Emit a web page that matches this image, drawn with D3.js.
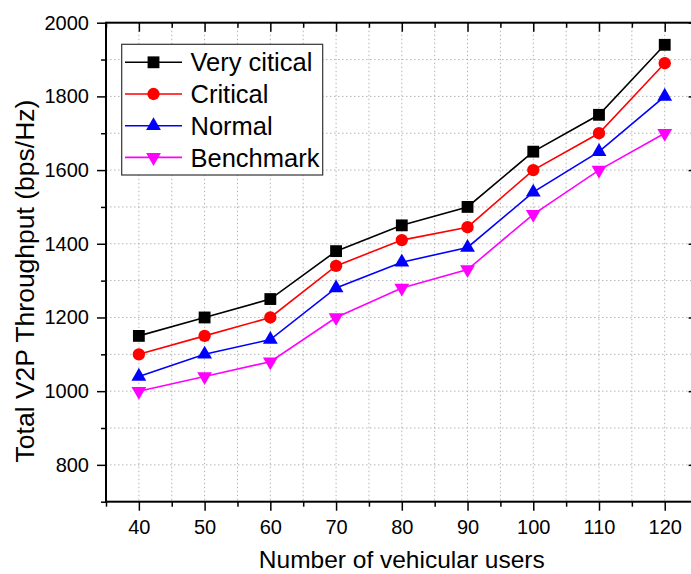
<!DOCTYPE html>
<html>
<head>
<meta charset="utf-8">
<script src="https://cdn.jsdelivr.net/npm/d3@7"></script>
<style>
  html, body { margin: 0; padding: 0; background: #fff; }
  svg { display: block; font-family: "Liberation Sans", Arial, sans-serif; }
</style>
</head>
<body>
<svg id="chart" width="691" height="574"></svg>
<script>
const users = [40, 50, 60, 70, 80, 90, 100, 110, 120];
const veryCritical = [1150, 1200, 1250, 1380, 1450, 1500, 1650, 1750, 1940];
const critical     = [1100, 1150, 1200, 1340, 1410, 1445, 1600, 1700, 1890];
const normal       = [1040, 1100, 1140, 1280, 1350, 1390, 1540, 1650, 1800];
const benchmark    = [1000, 1040, 1080, 1200, 1280, 1330, 1480, 1600, 1700];
const seriesNames  = ["Very citical", "Critical", "Normal", "Benchmark"];
const yTickValues  = [800, 1000, 1200, 1400, 1600, 1800, 2000];
const yMinorValues = [700, 900, 1100, 1300, 1500, 1700, 1900];
const xTickValues  = [40, 50, 60, 70, 80, 90, 100, 110, 120];
const xMinorValues = [35, 45, 55, 65, 75, 85, 95, 105, 115, 125];

(function () {
const svg = d3.select("#chart");
const pL = 106, pR = 697.6, pT = 22.7, pB = 501.7;
const x = d3.scaleLinear().domain([35, 125]).range([pL, pR]);
const y = d3.scaleLinear().domain([700, 2000]).range([pB, pT]);

// grid
const grid = svg.append("g").attr("stroke", "#b4b4b4").attr("stroke-width", 1).attr("stroke-dasharray", "1.5,2.5");
[...xTickValues, ...xMinorValues].forEach(v => {
  grid.append("line").attr("x1", x(v)).attr("x2", x(v)).attr("y1", pT).attr("y2", pB);
});
[...yTickValues, ...yMinorValues].forEach(v => {
  grid.append("line").attr("x1", pL).attr("x2", pR).attr("y1", y(v)).attr("y2", y(v));
});

function styleAxis(g) {
  g.select(".domain").remove();
  g.selectAll(".tick line").attr("stroke", "#000").attr("stroke-width", 1.5);
  g.selectAll("text").attr("fill", "#000").attr("font-size", 20).attr("font-family", null);
}

// bottom axis
svg.append("g").attr("transform", `translate(0,${pB})`)
  .call(d3.axisBottom(x).tickValues(xTickValues).tickSize(9).tickPadding(9).tickFormat(d3.format("d")))
  .call(styleAxis);
svg.append("g").attr("transform", `translate(0,${pB})`)
  .call(d3.axisBottom(x).tickValues(xMinorValues).tickSize(5).tickFormat(""))
  .call(styleAxis);
// top axis (inward)
svg.append("g").attr("transform", `translate(0,${pT})`)
  .call(d3.axisBottom(x).tickValues(xTickValues).tickSize(9).tickFormat(""))
  .call(styleAxis);
svg.append("g").attr("transform", `translate(0,${pT})`)
  .call(d3.axisBottom(x).tickValues(xMinorValues).tickSize(5).tickFormat(""))
  .call(styleAxis);
// left axis
svg.append("g").attr("transform", `translate(${pL},0)`)
  .call(d3.axisLeft(y).tickValues(yTickValues).tickSize(9).tickPadding(8).tickFormat(d3.format("d")))
  .call(styleAxis);
svg.append("g").attr("transform", `translate(${pL},0)`)
  .call(d3.axisLeft(y).tickValues(yMinorValues).tickSize(5).tickFormat(""))
  .call(styleAxis);
// right axis (inward)
svg.append("g").attr("transform", `translate(${pR},0)`)
  .call(d3.axisLeft(y).tickValues(yTickValues).tickSize(9).tickFormat(""))
  .call(styleAxis);
svg.append("g").attr("transform", `translate(${pR},0)`)
  .call(d3.axisLeft(y).tickValues(yMinorValues).tickSize(5).tickFormat(""))
  .call(styleAxis);

// frame
svg.append("rect").attr("x", pL).attr("y", pT).attr("width", pR - pL).attr("height", pB - pT)
  .attr("fill", "none").attr("stroke", "#000").attr("stroke-width", 2);

// series
const series = [
  { name: seriesNames[0], values: veryCritical, color: "#000000", symbol: d3.symbolSquare, size: 140, rot: 0 },
  { name: seriesNames[1], values: critical,     color: "#ff0000", symbol: d3.symbolCircle, size: 120, rot: 0 },
  { name: seriesNames[2], values: normal,       color: "#0000ff", symbol: d3.symbolTriangle, size: 95, rot: 0 },
  { name: seriesNames[3], values: benchmark,    color: "#ff00ff", symbol: d3.symbolTriangle, size: 95, rot: 180 }
];

const line = d3.line().x((d, i) => x(users[i])).y(d => y(d));
series.forEach(s => {
  svg.append("path").datum(s.values).attr("d", line)
    .attr("fill", "none").attr("stroke", s.color).attr("stroke-width", 1.6);
  svg.append("g").selectAll("path").data(s.values).join("path")
    .attr("d", d3.symbol().type(s.symbol).size(s.size))
    .attr("transform", (d, i) => `translate(${x(users[i])},${y(d)}) rotate(${s.rot})`)
    .attr("fill", s.color);
});

// legend
const lg = svg.append("g");
lg.append("rect").attr("x", 121.7).attr("y", 44.3).attr("width", 201).attr("height", 130.7)
  .attr("fill", "#fff").attr("stroke", "#333").attr("stroke-width", 1.2);
const rowY = [62.3, 94, 125.7, 157.4];
series.forEach((s, i) => {
  const g = lg.append("g").attr("transform", `translate(0,${rowY[i]})`);
  g.append("line").attr("x1", 125).attr("x2", 182).attr("y1", 0).attr("y2", 0)
    .attr("stroke", s.color).attr("stroke-width", 1.6);
  g.append("path").attr("d", d3.symbol().type(s.symbol).size(s.size))
    .attr("transform", `translate(153.5,0) rotate(${s.rot})`).attr("fill", s.color);
  g.append("text").attr("x", 190.5).attr("y", 0).attr("dy", "0.36em")
    .attr("font-size", 25.5).attr("fill", "#000").text(s.name);
});

// axis titles
svg.append("text").attr("x", (pL + pR) / 2).attr("y", 568).attr("text-anchor", "middle")
  .attr("font-size", 24.5).attr("fill", "#000").text("Number of vehicular users");
svg.append("text").attr("transform", "translate(34,281) rotate(-90)").attr("text-anchor", "middle")
  .attr("font-size", 26.5).attr("fill", "#000").text("Total V2P Throughput (bps/Hz)");
})();
</script>
</body>
</html>
